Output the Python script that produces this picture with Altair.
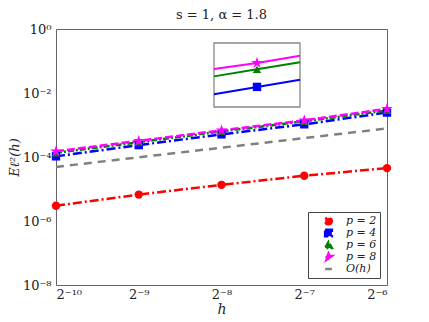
import altair as alt
import pandas as pd

# ---- data ----
h = [0.0009765625, 0.001953125, 0.00390625, 0.0078125, 0.015625]
series_names = ["p = 2", "p = 4", "p = 6", "p = 8", "O(h)"]
p2 = [3.0e-6, 6.7e-6, 1.35e-5, 2.6e-5, 4.5e-5]
p4 = [1.05e-4, 2.35e-4, 5.1e-4, 1.05e-3, 2.45e-3]
p6 = [1.35e-4, 2.9e-4, 6.3e-4, 1.3e-3, 2.85e-3]
p8 = [1.5e-4, 3.2e-4, 6.8e-4, 1.4e-3, 3.2e-3]
oh = [4.9e-5, 9.8e-5, 1.95e-4, 3.9e-4, 7.8e-4]

# inset (zoom around h = 2^-8): left edge, centre, right edge
inset_h = [0.0035820, 0.00390625, 0.0042598]
inset_names = ["p = 4", "p = 6", "p = 8"]
inset_p4 = [4.65e-4, 5.09e-4, 5.55e-4]
inset_p6 = [5.79e-4, 6.31e-4, 6.89e-4]
inset_p8 = [6.34e-4, 6.82e-4, 7.46e-4]
inset_x_domain = [0.0035820, 0.0042598]
inset_y_domain = [3.98e-4, 8.71e-4]

colors = ["#ff0000", "#0000ff", "#008000", "#ff00ff", "#808080"]
star = "M0,-1L0.223,-0.307L0.951,-0.309L0.361,0.117L0.588,0.809L0,0.38L-0.588,0.809L-0.361,0.117L-0.951,-0.309L-0.223,-0.307Z"
shapes = ["circle", "square", "triangle-up", star, "stroke"]
dashes = [[9, 3, 2, 3], [9, 3, 2, 3], [6, 2, 2, 2], [8, 3], [8, 6]]
widths = [2.5, 2.5, 1.5, 2.5, 2.5]

rows = []
for name, vals in zip(series_names, [p2, p4, p6, p8, oh]):
    for hv, v in zip(h, vals):
        rows.append({"h": hv, "E": v, "series": name})
df = pd.DataFrame(rows)

irows = []
for name, vals in zip(inset_names, [inset_p4, inset_p6, inset_p8]):
    for i, (hv, v) in enumerate(zip(inset_h, vals)):
        irows.append({"h": hv, "E": v, "series": name, "mid": i == 1})
idf = pd.DataFrame(irows)
frame_df = pd.DataFrame([{"x1": inset_x_domain[0], "x2": inset_x_domain[1],
                          "y1": inset_y_domain[0], "y2": inset_y_domain[1]}])

serif = "DejaVu Serif"

color_scale = alt.Scale(domain=series_names, range=colors)
shape_scale = alt.Scale(domain=series_names, range=shapes)
dash_scale = alt.Scale(domain=series_names, range=dashes)
width_scale = alt.Scale(domain=series_names, range=widths)

xlab = "['2⁻¹⁰','2⁻⁹','2⁻⁸','2⁻⁷','2⁻⁶'][round(log(datum.value)/LN2)+10]"
ylab = "['10⁰','10⁻²','10⁻⁴','10⁻⁶','10⁻⁸'][round(-log(datum.value)/LN10/2)]"

x_main = alt.X("h:Q", scale=alt.Scale(type="log", base=2, domain=[h[0], h[-1]], nice=False),
               axis=alt.Axis(values=h, labelExpr=xlab, title="h", titleFontStyle="italic",
                             titleFont=serif, titleFontSize=14, titleFontWeight="normal",
                             labelFont=serif, labelFontSize=13, labelColor="#222",
                             ticks=False, labelPadding=3, domain=False, grid=False,
                             titlePadding=1, titleColor="#222"))
y_main = alt.Y("E:Q", scale=alt.Scale(type="log", domain=[1e-8, 1], nice=False),
               axis=alt.Axis(values=[1, 1e-2, 1e-4, 1e-6, 1e-8], labelExpr=ylab,
                             title="Eℓ²(h)", titleFontStyle="italic", titleFont=serif,
                             titleFontSize=13, titleFontWeight="normal", labelFont=serif,
                             labelFontSize=13, labelColor="#222", ticks=False, labelPadding=5,
                             domain=False, grid=False, titlePadding=1, titleColor="#222"))

legend = alt.Legend(title=None, orient="bottom-right", offset=7, fillColor="white",
                    strokeColor="#444", padding=3, labelFont=serif, labelFontSize=11,
                    labelFontStyle="italic", symbolStrokeWidth=2, rowPadding=0,
                    symbolSize=45, labelColor="#222", symbolOffset=12, labelOffset=12,
                    clipHeight=12)

lines = alt.Chart(df).mark_line().encode(
    x=x_main, y=y_main,
    color=alt.Color("series:N", scale=color_scale, legend=legend),
    strokeDash=alt.StrokeDash("series:N", scale=dash_scale, legend=legend),
    strokeWidth=alt.StrokeWidth("series:N", scale=width_scale, legend=None),
)
points = alt.Chart(df).mark_point(filled=True, opacity=1).encode(
    x=x_main, y=y_main,
    color=alt.Color("series:N", scale=color_scale, legend=legend),
    shape=alt.Shape("series:N", scale=shape_scale, legend=legend),
    size=alt.condition("datum.series == 'p = 8'", alt.value(150), alt.value(70)),
).transform_filter("datum.series != 'O(h)'")

main = alt.layer(lines, points)

ix = alt.Scale(type="log", base=2, domain=inset_x_domain, range=[158, 244], nice=False)
iy = alt.Scale(type="log", domain=inset_y_domain, range=[78, 14], nice=False)

frame = alt.Chart(frame_df).mark_rect(fill="white", stroke="#888", strokeWidth=1.3).encode(
    x=alt.X("x1:Q", scale=ix, axis=None), x2="x2:Q",
    y=alt.Y("y1:Q", scale=iy, axis=None), y2="y2:Q",
)
ilines = alt.Chart(idf).mark_line(strokeWidth=2).encode(
    x=alt.X("h:Q", scale=ix, axis=None),
    y=alt.Y("E:Q", scale=iy, axis=None),
    color=alt.Color("series:N", scale=color_scale, legend=None),
)
ipoints = alt.Chart(idf).mark_point(filled=True, opacity=1).encode(
    x=alt.X("h:Q", scale=ix, axis=None),
    y=alt.Y("E:Q", scale=iy, axis=None),
    color=alt.Color("series:N", scale=color_scale, legend=None),
    shape=alt.Shape("series:N", scale=shape_scale, legend=None),
    size=alt.condition("datum.series == 'p = 8'", alt.value(150), alt.value(70)),
).transform_filter("datum.mid")

inset = alt.layer(frame, ilines, ipoints)

chart = alt.layer(main, inset).resolve_scale(x="independent", y="independent").properties(
    width=331, height=256,
    title=alt.TitleParams("s = 1, α = 1.8", font=serif, fontSize=13, fontWeight="normal",
                          offset=1, color="#222"),
    padding={"left": 0, "top": 1, "right": 5, "bottom": 0},
).configure_view(stroke="#666", strokeWidth=1)

chart.save("out.html", embed_options={"renderer": "svg", "actions": False})
